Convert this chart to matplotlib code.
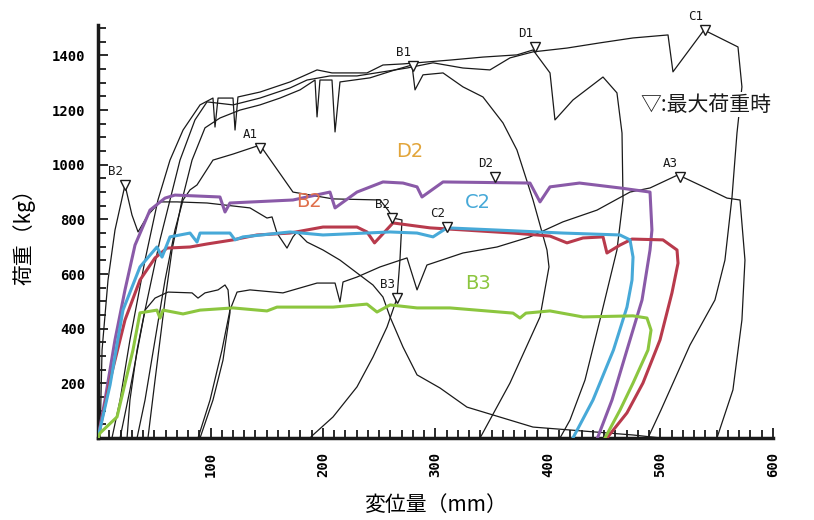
import matplotlib
matplotlib.use('Agg')
import matplotlib.pyplot as plt
from matplotlib.ticker import MultipleLocator

# ---- coloured curves (displacement mm, load kg) ----
d2_x = [0, 6.2, 15.1, 24, 32.9, 46.2, 59.6, 68.4, 108.4, 112.9, 117.3, 173.3, 206.2, 210.7, 230.2,
        253.3, 271.1, 283.6, 288, 306.7, 384, 392.9, 401.8, 428, 464, 490.7, 492.4, 490.7, 483.6,
        470.2, 456.9, 444]
d2_y = [0, 139, 359, 542, 706, 834, 878, 889, 882, 827, 860, 871, 900, 842, 900,
        937, 933, 919, 882, 937, 933, 864, 919, 933, 915, 900, 761, 688, 505,
        322, 139, 0]

b2_x = [0, 10.7, 24, 37.3, 50.7, 61.3, 81.8, 96.9, 120, 141.3, 170.7, 200, 230.2, 239.1, 245.8,
        262.2, 295.1, 368.9, 401.8, 416.9, 431.1, 448.9, 452.4, 464, 474.7, 502.2, 514.7, 515.6,
        510.2, 499.6, 484.4, 470.2, 452.4]
b2_y = [0, 212, 432, 578, 659, 695, 699, 710, 725, 743, 750, 772, 772, 754, 714,
        787, 769, 750, 739, 714, 732, 736, 677, 706, 728, 725, 688, 640,
        531, 359, 201, 92, 0]

c2_x = [0, 10.7, 22.2, 37.3, 52.4, 56.9, 64, 81.8, 88, 90.7, 117.3, 121.8, 128.9, 170.7, 200,
        259.6, 283.6, 297.8, 310.2, 354.7, 413.3, 464, 472.9, 475.6, 474.7, 470.2, 458.2, 440,
        422.2]
c2_y = [0, 194, 468, 626, 699, 662, 736, 750, 717, 750, 750, 725, 736, 754, 743,
        754, 750, 736, 769, 761, 750, 743, 725, 662, 578, 479, 322, 139,
        0]

b3_x = [0, 1.8, 16.9, 31.1, 37.3, 52.4, 55.1, 57.8, 75.6, 90.7, 120, 150.2, 159.1, 208.9, 239.1,
        248, 259.6, 283.6, 312.9, 368.9, 375.1, 380.4, 401.8, 431.1, 475.6, 488, 491.6, 488.9,
        475.6, 464, 450.7]
b3_y = [0, 18, 77, 322, 458, 468, 439, 468, 454, 468, 476, 465, 479, 479, 490,
        461, 487, 476, 476, 457, 439, 457, 465, 443, 447, 439, 395, 322,
        201, 102, 0]

# ---- black curves ----
kb2_x = [1.8, 3.6, 8.9, 15.1, 24, 30.2, 35.6, 44.4, 55.1, 70.2, 96.9, 135.1, 150.2, 154.7, 159.1,
         168, 173.3, 176.9, 185.8, 200, 215.1, 230.2, 244.4, 253.3, 259.6, 271.1, 283.6, 304,
         328, 386.7, 475.6, 500.4]
kb2_y = [0, 322, 578, 761, 926, 816, 754, 816, 864, 864, 860, 842, 805, 809, 750,
         695, 736, 754, 717, 688, 651, 604, 560, 516, 443, 333, 231, 183,
         113, 40, 11, 0]

klow_x = [25.8, 28.4, 34.7, 41.8, 50.7, 62.2, 83.6, 88.9, 95.1, 106.7, 112.9, 115.6, 117.3, 111.1,
          102.2, 90.7]
klow_y = [0, 139, 322, 468, 512, 534, 531, 512, 531, 542, 560, 542, 458, 285,
          139, 0]

ka3_x = [88.9, 99.6, 110.2, 117.3, 123.6, 135.1, 164.4, 194.7, 210.7, 215.1, 217.8, 230.2, 250.7,
         274.7, 283.6, 292.4, 324.4, 354.7, 384, 413.3, 443.6, 472.9, 490.7, 515.6, 544, 559.1,
         570.7, 575.1, 572.4, 564.4, 550.2]
ka3_y = [0, 139, 322, 468, 534, 542, 531, 567, 567, 498, 571, 589, 626,
         659, 542, 633, 677, 699, 736, 791, 834, 900, 915, 963, 908, 878,
         871, 651, 432, 176, 0]

ka1_x = [34.7, 41.8, 50.7, 59.6, 68.4, 75.6, 81.8, 88, 102.2, 120, 144, 173.3, 208.9, 250.7,
         257.8, 262.2, 270.2, 268.4, 265.8, 256.9, 244.4, 230.2, 208.9, 191.1, 188.4]
ka1_y = [0, 139, 359, 578, 761, 871, 908, 926, 1017, 1039, 1072, 900, 875, 871,
         834, 805, 798, 651, 512, 406, 296, 187, 77, 11, 0]

kd1_x = [12.4, 19.6, 28.4, 41.8, 53.3, 64, 75.6, 90.7, 102.2, 104, 106.7, 120, 121.8, 124.4, 144,
         170.7, 194.7, 208, 239.1, 253.3, 271.1, 312.9, 342.2, 372.4, 386.7, 401.8, 406.2,
         422.2, 448.9, 461.3, 465.8, 466.7, 461.3, 446.2, 432.9, 419.6, 410.7]
kd1_y = [0, 139, 359, 651, 871, 1017, 1127, 1219, 1244, 1138, 1244, 1244, 1127, 1248, 1266,
         1303, 1347, 1336, 1336, 1365, 1369, 1383, 1394, 1402, 1420, 1336, 1164,
         1237, 1321, 1263, 1116, 871, 688, 432, 212, 66, 0]

kc1_x = [19.6, 28.4, 41.8, 55.1, 64, 72.9, 86.2, 96.9, 120, 144, 170.7, 185.8, 206.2, 230.2, 253.3,
         274.7, 297.8, 324.4, 348.4, 366.2, 386.7, 416.9, 446.2, 475.6, 506.7, 511.1, 538.7,
         568.9, 572.4, 568, 563.6, 557.3, 548.4, 526.2, 500.4, 488.9]
kc1_y = [0, 176, 468, 725, 871, 1017, 1164, 1230, 1219, 1244, 1281, 1310, 1325, 1325, 1340,
         1354, 1373, 1354, 1347, 1391, 1413, 1427, 1446, 1464, 1475, 1340, 1493,
         1431, 1285, 1116, 882, 651, 505, 340, 102, 0]

kb1_x = [44.4, 50.7, 59.6, 65.8, 74.7, 83.6, 95.1, 108.4, 126.2, 144, 161.8, 179.6, 192.9, 194.7,
         197.3, 208, 210.7, 215.1, 241.8, 264, 279.1, 281.8, 288.9, 306.7, 324.4, 342.2, 360,
         372.4, 386.7, 399.1, 400.9, 392.9, 366.2, 339.6]
kb1_y = [0, 212, 505, 688, 871, 1017, 1135, 1171, 1200, 1219, 1244, 1274, 1310, 1175,
         1310, 1310, 1120, 1303, 1318, 1347, 1365, 1274, 1329, 1336, 1285, 1248, 1153,
         1054, 871, 688, 626, 443, 201, 0]

# max-load markers
peak_names = ['B2', 'A1', 'B1', 'D1', 'C1', 'D2', 'A3', 'B3', 'B2', 'C2']
peak_x = [24, 144, 280, 388.4, 539.6, 352.9, 517.3, 265.8, 261.3, 310.2]
peak_y = [926, 1061, 1362, 1431, 1493, 955, 955, 512, 805, 772]

series_names = ['D2', 'B2', 'C2', 'B3']
series_colors = ['#8a5aa8', '#b83a4c', '#47a9d8', '#8cc63f']
name_colors = ['#e2a53a', '#e0704c', '#47a9d8', '#8cc63f']
name_x = [277, 188, 338, 338]
name_y = [1047, 864, 860, 567]

plt.rcParams['font.family'] = ['Noto Sans CJK JP', 'DejaVu Sans']

fig = plt.figure(figsize=(8.14, 5.2), dpi=100)
ax = fig.add_axes([0.1204, 0.1577, 0.8292, 0.7935])

for xs, ys in [(kb2_x, kb2_y), (klow_x, klow_y), (ka3_x, ka3_y), (ka1_x, ka1_y),
               (kd1_x, kd1_y), (kc1_x, kc1_y), (kb1_x, kb1_y)]:
    ax.plot(xs, ys, color='#1a1a1a', lw=0.9, clip_on=False, zorder=2)

for (xs, ys), col in zip([(d2_x, d2_y), (b2_x, b2_y), (c2_x, c2_y), (b3_x, b3_y)], series_colors):
    ax.plot(xs, ys, color=col, lw=2.2, zorder=3, solid_joinstyle='round')

ax.plot(peak_x, peak_y, ls='none', marker='v', ms=7, mfc='white', mec='#1a1a1a', mew=1,
        clip_on=False, zorder=4)
for n, px, py in zip(peak_names, peak_x, peak_y):
    ax.annotate(n, (px, py), xytext=(-7, 5), textcoords='offset points', ha='center', va='bottom',
                fontsize=9, family='DejaVu Sans Mono', color='#1a1a1a', annotation_clip=False)

for n, c, tx, ty in zip(series_names, name_colors, name_x, name_y):
    ax.text(tx, ty, n, color=c, fontsize=14, family='DejaVu Sans', ha='center', va='center')

ax.text(482, 1219, '▽:最大荷重時', fontsize=15, color='#1a1a1a', ha='left', va='center',
        family=['Noto Sans CJK JP', 'DejaVu Sans'],
        bbox=dict(facecolor='white', edgecolor='none', pad=1))

ax.set_xlim(0, 600)
ax.set_ylim(0, 1510)
for s in ['top', 'right']:
    ax.spines[s].set_visible(False)
for s in ['left', 'bottom']:
    ax.spines[s].set_linewidth(2.5)
    ax.spines[s].set_color('#1a1a1a')

ax.xaxis.set_major_locator(MultipleLocator(100))
ax.xaxis.set_minor_locator(MultipleLocator(10))
ax.yaxis.set_major_locator(MultipleLocator(200))
ax.yaxis.set_minor_locator(MultipleLocator(50))
ax.tick_params(which='both', direction='in', color='#1a1a1a', width=1.3)
ax.tick_params(which='major', length=7)
ax.tick_params(which='minor', length=6)
ax.tick_params(axis='y', pad=9)
ax.tick_params(axis='x', pad=10)

ax.set_xticks([100, 200, 300, 400, 500, 600])
ax.set_xticklabels(['100', '200', '300', '400', '500', '600'], rotation=90,
                   family='DejaVu Sans Mono', fontsize=10, fontweight='bold')
ax.set_yticks([200, 400, 600, 800, 1000, 1200, 1400])
ax.set_yticklabels(['200', '400', '600', '800', '1000', '1200', '1400'],
                   family='DejaVu Sans Mono', fontsize=10, fontweight='bold')

ax.set_xlabel('変位量（mm）', fontsize=15, labelpad=12)
ax.set_ylabel('荷重（kg）', fontsize=15, labelpad=12)

fig.savefig('out.png', dpi=100)
